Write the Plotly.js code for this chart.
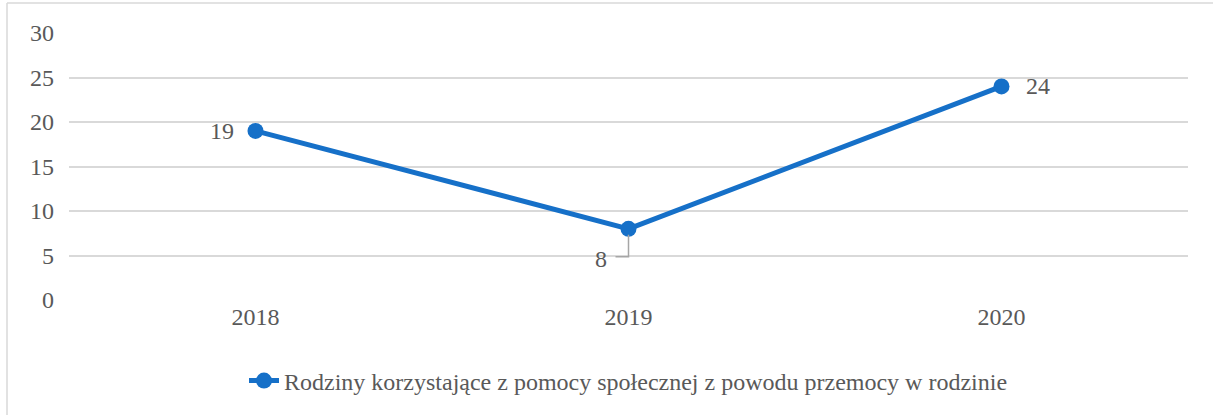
<!DOCTYPE html>
<html>
<head>
<meta charset="utf-8">
<script src="https://cdn.plot.ly/plotly-3.0.1.min.js"></script>
<style>
  html, body { margin: 0; padding: 0; background: #fff; }
  #chart { width: 1213px; height: 415px; }
</style>
</head>
<body>
<div id="chart"></div>
<script>
const years = ['2018', '2019', '2020'];
const families = [19, 8, 24];
const seriesName = 'Rodziny korzystające z pomocy społecznej z powodu przemocy w rodzinie';
const yTicks = [0, 5, 10, 15, 20, 25, 30];

const blue = '#1670c8';
const textColor = '#595959';
const font = 'Liberation Serif';

// plot area in pixels
const W = 1213, H = 415;
const m = { l: 69, r: 25, t: 33, b: 115 };
const pw = W - m.l - m.r, ph = H - m.t - m.b;
const px = x => (x - m.l) / pw;      // page px -> paper x
const py = y => (H - m.b - y) / ph;  // page px -> paper y

const trace = {
    x: years,
    y: families,
    type: 'scatter',
    mode: 'lines+markers',
    name: seriesName,
    line: { color: blue, width: 5 },
    marker: { color: blue, size: 16 },
    hoverinfo: 'x+y'
};

// data labels: left, below (with leader), right
const labelPos = [
    { xshift: -34, yshift: 0 },
    { xshift: -28, yshift: -30 },
    { xshift: 36, yshift: 0 }
];
const annotations = families.map((v, i) => ({
    x: i, y: v, xref: 'x', yref: 'y',
    text: String(v), showarrow: false,
    xanchor: 'center', yanchor: 'middle',
    xshift: labelPos[i].xshift, yshift: labelPos[i].yshift,
    font: { family: font, size: 24, color: textColor }
}));

const shapes = [
    // leader line for the 2019 label
    {
        type: 'path', xref: 'x', yref: 'y',
        xsizemode: 'pixel', ysizemode: 'pixel',
        xanchor: 1, yanchor: families[1],
        path: 'M 0 -6 L 0 -28 L -13 -28',
        line: { color: '#a6a6a6', width: 1.5 }
    },
    // chart frame (top and left edges)
    { type: 'line', xref: 'paper', yref: 'paper', x0: px(7), x1: px(1213), y0: py(3), y1: py(3),
      line: { color: '#d9d9d9', width: 1.5 }, layer: 'below' },
    { type: 'line', xref: 'paper', yref: 'paper', x0: px(7), x1: px(7), y0: py(3), y1: py(415),
      line: { color: '#d9d9d9', width: 1.5 }, layer: 'below' }
];

const layout = {
    width: W, height: H,
    margin: m,
    paper_bgcolor: '#fff',
    plot_bgcolor: '#fff',
    font: { family: font, size: 24, color: textColor },
    showlegend: true,
    legend: {
        orientation: 'h', x: 0.5, xanchor: 'center', y: py(381), yanchor: 'middle',
        font: { family: font, size: 24, color: textColor }
    },
    xaxis: {
        type: 'category', range: [-0.5, 2.5],
        showgrid: false, zeroline: false, showline: false, ticks: '',
        tickfont: { family: font, size: 24, color: textColor }
    },
    yaxis: {
        range: [0, 30], tickvals: yTicks,
        gridcolor: '#d9d9d9', gridwidth: 1.5,
        zeroline: false, showline: false, ticks: '',
        ticklabelstandoff: 14,
        tickfont: { family: font, size: 24, color: textColor }
    },
    annotations: annotations,
    shapes: shapes
};

Plotly.newPlot('chart', [trace], layout, { displayModeBar: false });
</script>
</body>
</html>
